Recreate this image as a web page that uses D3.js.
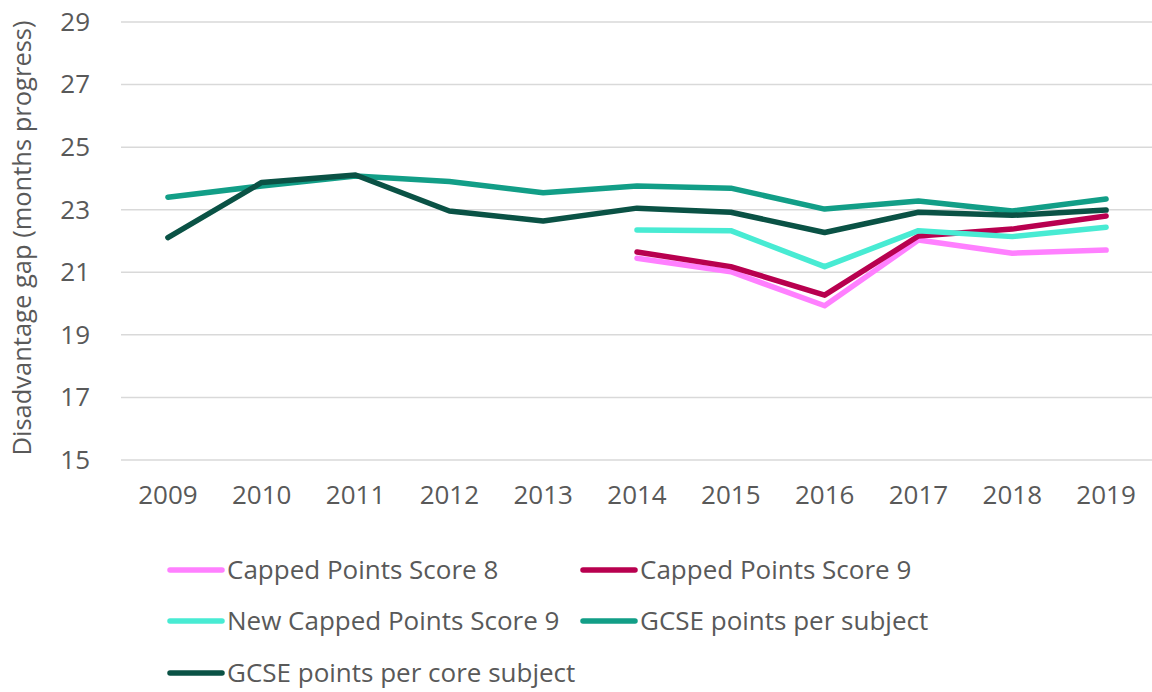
<!DOCTYPE html>
<html>
<head>
<meta charset="utf-8">
<script src="https://cdn.jsdelivr.net/npm/d3@7"></script>
<style>
  body { margin: 0; background: #fff; }
  text { font-family: "Open Sans", "Noto Sans", sans-serif; fill: #595959; }
</style>
</head>
<body>
<div id="container"></div>
<script>
// chart data
var years = ["2009", "2010", "2011", "2012", "2013", "2014", "2015", "2016", "2017", "2018", "2019"];
var yTicks = [15, 17, 19, 21, 23, 25, 27, 29];

var cps8      = [null, null, null, null, null, 21.45, 21.02, 19.93, 22.03, 21.61, 21.71];
var cps9      = [null, null, null, null, null, 21.65, 21.18, 20.27, 22.16, 22.38, 22.80];
var newCps9   = [null, null, null, null, null, 22.35, 22.33, 21.18, 22.33, 22.14, 22.44];
var gcseSubj  = [23.40, 23.76, 24.08, 23.90, 23.54, 23.76, 23.69, 23.02, 23.28, 22.96, 23.34];
var gcseCore  = [22.11, 23.87, 24.11, 22.96, 22.64, 23.05, 22.92, 22.27, 22.92, 22.82, 22.99];

var series = [
  { name: "Capped Points Score 8", values: cps8, color: "#ff80ff" },
  { name: "Capped Points Score 9", values: cps9, color: "#b8004f" },
  { name: "New Capped Points Score 9", values: newCps9, color: "#48ebd3" },
  { name: "GCSE points per subject", values: gcseSubj, color: "#129e87" },
  { name: "GCSE points per core subject", values: gcseCore, color: "#0a5245" }
];

var w = 1152, h = 692;
var margin = { left: 121, right: -1, top: 22, bottom: 232 };

var svg = d3.select("div#container")
  .append("svg")
  .attr("width", w)
  .attr("height", h);

var x = d3.scaleBand()
  .domain(years)
  .range([margin.left, w - margin.right]);

var y = d3.scaleLinear()
  .domain([15, 29])
  .range([h - margin.bottom, margin.top]);

// gridlines
svg.append("g")
  .selectAll("line")
  .data(yTicks)
  .enter().append("line")
  .attr("x1", margin.left)
  .attr("x2", w - margin.right)
  .attr("y1", function(d) { return y(d); })
  .attr("y2", function(d) { return y(d); })
  .attr("stroke", "#d9d9d9")
  .attr("stroke-width", 1.5);

// y axis labels
var yAxis = svg.append("g")
  .attr("transform", "translate(" + (margin.left - 31) + ",0)")
  .call(d3.axisLeft(y).tickValues(yTicks).tickSize(0).tickPadding(0));
yAxis.select(".domain").remove();
yAxis.selectAll("text")
  .style("font-size", "26px")
  .attr("fill", "#595959")
  .attr("font-family", null);

// x axis labels
var xAxis = svg.append("g")
  .attr("transform", "translate(0," + (h - margin.bottom + 26) + ")")
  .call(d3.axisBottom(x).tickSize(0).tickPadding(0));
xAxis.select(".domain").remove();
xAxis.selectAll("text")
  .style("font-size", "26px")
  .attr("fill", "#595959")
  .attr("font-family", null);

// y axis title
svg.append("text")
  .attr("transform", "translate(31,238) rotate(-90)")
  .attr("text-anchor", "middle")
  .style("font-size", "25.5px")
  .text("Disadvantage gap (months progress)");

// lines
var line = d3.line()
  .defined(function(d) { return d != null; })
  .x(function(d, i) { return x(years[i]) + x.bandwidth() / 2; })
  .y(function(d) { return y(d); });

svg.append("g")
  .selectAll("path")
  .data(series)
  .enter().append("path")
  .attr("d", function(d) { return line(d.values); })
  .attr("fill", "none")
  .attr("stroke", function(d) { return d.color; })
  .attr("stroke-width", 5.5)
  .attr("stroke-linecap", "round")
  .attr("stroke-linejoin", "round");

// legend
var legendPos = [[170, 570], [583, 570], [170, 621], [583, 621], [170, 673]];
var legend = svg.append("g")
  .selectAll("g")
  .data(series)
  .enter().append("g")
  .attr("transform", function(d, i) { return "translate(" + legendPos[i][0] + "," + legendPos[i][1] + ")"; });

legend.append("line")
  .attr("x1", 0).attr("x2", 52)
  .attr("stroke", function(d) { return d.color; })
  .attr("stroke-width", 5.5)
  .attr("stroke-linecap", "round");

legend.append("text")
  .attr("x", 57)
  .attr("dy", "0.35em")
  .style("font-size", "26px")
  .text(function(d) { return d.name; });
</script>
</body>
</html>
